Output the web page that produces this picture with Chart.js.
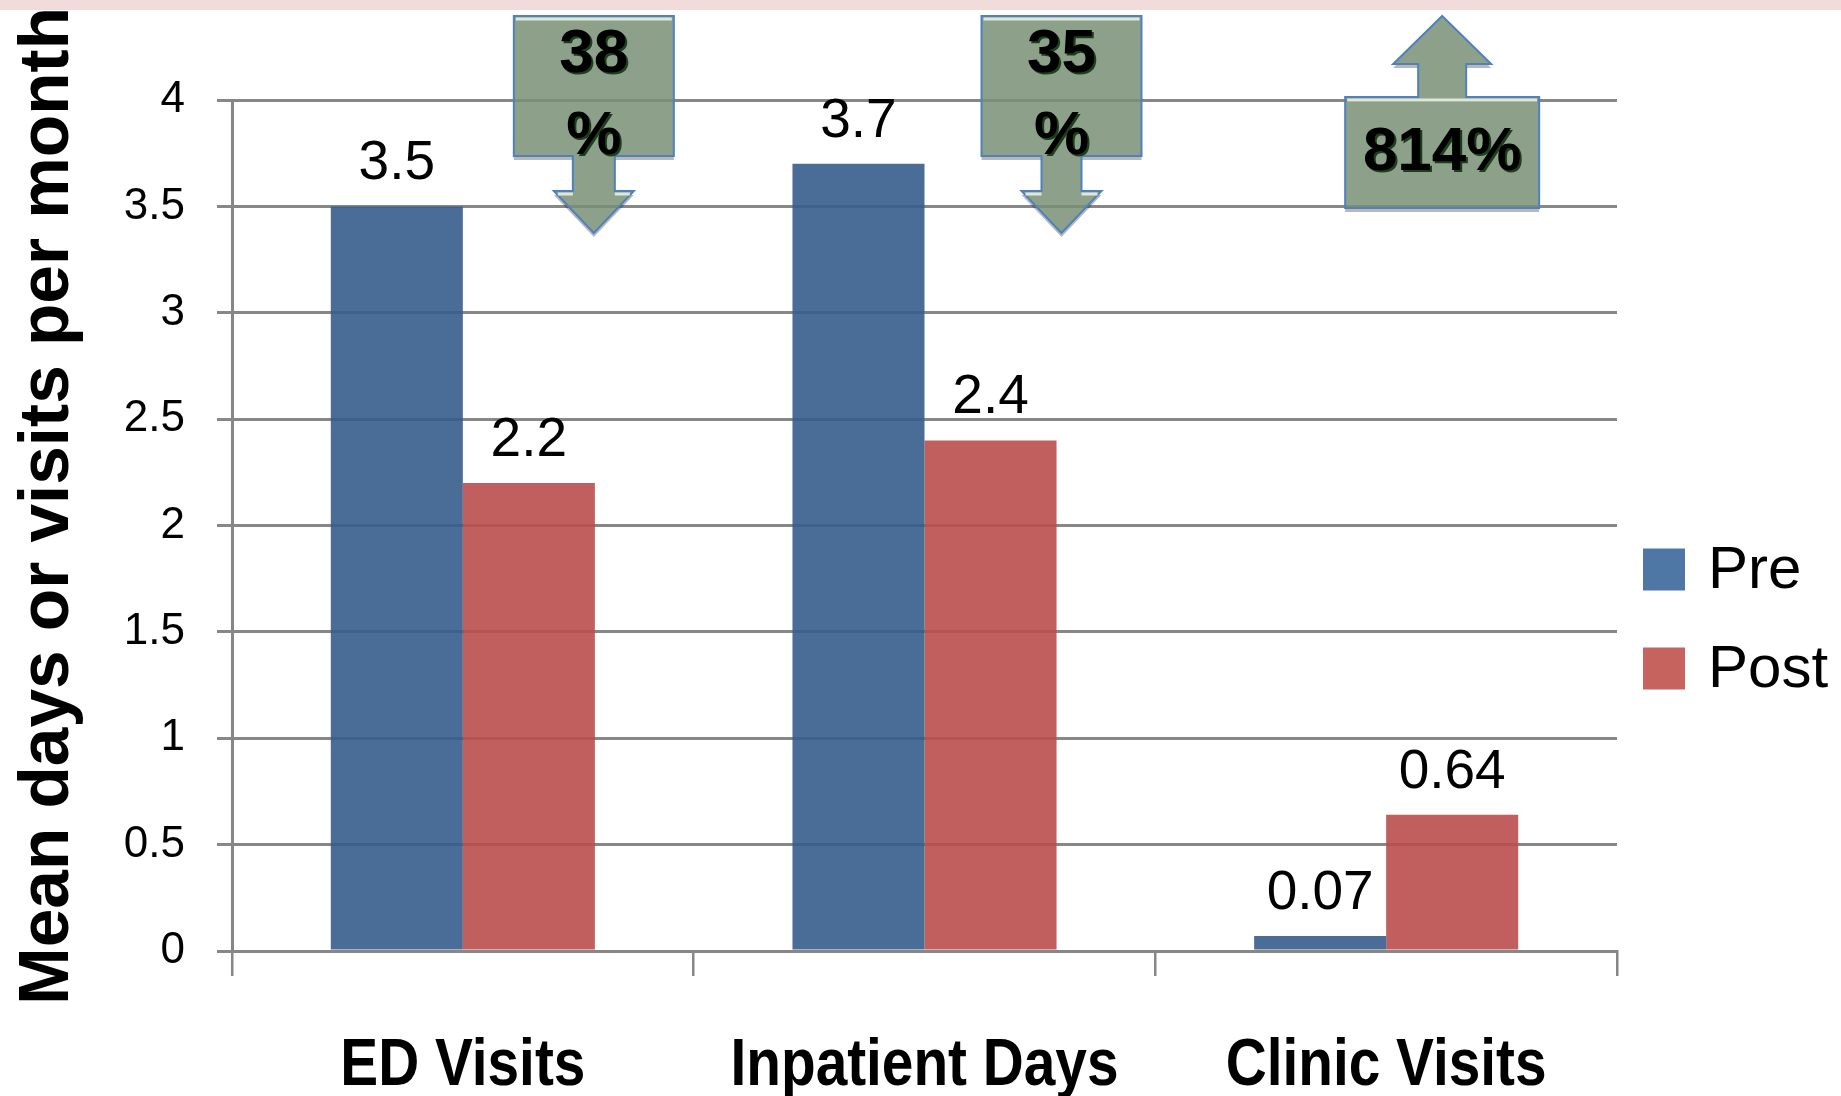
<!DOCTYPE html>
<html>
<head>
<meta charset="utf-8">
<script src="https://cdn.jsdelivr.net/npm/chart.js@4.4.1/dist/chart.umd.min.js"></script>
<style>
  html, body { margin: 0; padding: 0; background: #fff; }
  canvas { display: block; }
</style>
</head>
<body>
<canvas id="myChart" width="1841" height="1096"></canvas>
<script>
// data
const categories = ['ED Visits', 'Inpatient Days', 'Clinic Visits'];
const seriesNames = ['Pre', 'Post'];
const preValues = [3.5, 3.7, 0.07];
const postValues = [2.2, 2.4, 0.64];
const yMin = 0;
const yMax = 4;
const yStep = 0.5;
const changeTexts = [['38', '%'], ['35', '%'], ['814%']];
const changeDirections = ['down', 'down', 'up'];
const yTitle = 'Mean days or visits per month';

const gridGray = '#878787';
const barColors = ['rgba(54, 93, 141, 0.9)', 'rgba(185, 78, 76, 0.9)'];
const legendColors = ['#4f77a5', '#c6635f'];

// callout shapes, offsets in px from the category centre and chart top
const calloutShapes = [
  { dx: 131, half: 80, shaft: 21, wing: 40, boxTop: -84, boxBottom: 56, wingY: 91, tipY: 133, textY: [-45, 37] },
  { dx: 137, half: 80, shaft: 20, wing: 40, boxTop: -84, boxBottom: 56, wingY: 91, tipY: 133, textY: [-45, 37] },
  { dx: 56, half: 97, shaft: 24, wing: 49, boxTop: -3, boxBottom: 108, wingY: -36, tipY: -84, textY: [53] }
];

function tracePath(ctx, s, cx, top, dir, dy) {
  const l = cx - s.half, r = cx + s.half;
  const t = top + s.boxTop + dy, b = top + s.boxBottom + dy;
  const wy = top + s.wingY + dy, ty = top + s.tipY + dy;
  if (dir === 'down') {
    ctx.moveTo(l, t); ctx.lineTo(r, t); ctx.lineTo(r, b);
    ctx.lineTo(cx + s.shaft, b); ctx.lineTo(cx + s.shaft, wy);
    ctx.lineTo(cx + s.wing, wy); ctx.lineTo(cx, ty);
    ctx.lineTo(cx - s.wing, wy); ctx.lineTo(cx - s.shaft, wy);
    ctx.lineTo(cx - s.shaft, b); ctx.lineTo(l, b);
  } else {
    ctx.moveTo(cx, ty); ctx.lineTo(cx + s.wing, wy);
    ctx.lineTo(cx + s.shaft, wy); ctx.lineTo(cx + s.shaft, t);
    ctx.lineTo(r, t); ctx.lineTo(r, b); ctx.lineTo(l, b); ctx.lineTo(l, t);
    ctx.lineTo(cx - s.shaft, t); ctx.lineTo(cx - s.shaft, wy);
    ctx.lineTo(cx - s.wing, wy);
  }
  ctx.closePath();
}

const overlays = {
  id: 'overlays',
  afterDatasetsDraw(chart) {
    const ctx = chart.ctx;
    const area = chart.chartArea;
    const x = chart.scales.x;

    // percentage callouts
    calloutShapes.forEach((s, i) => {
      const cx = x.getPixelForValue(i) + s.dx;
      const dir = changeDirections[i];
      ctx.save();
      ctx.beginPath();
      ctx.rect(0, 0, chart.width, chart.height);
      tracePath(ctx, s, cx, area.top, dir, 0);
      ctx.clip('evenodd');
      ctx.beginPath();
      tracePath(ctx, s, cx, area.top, dir, 4);
      ctx.fillStyle = 'rgba(0, 0, 0, 0.28)';
      ctx.fill();
      ctx.restore();

      ctx.save();
      ctx.beginPath();
      tracePath(ctx, s, cx, area.top, dir, 0);
      ctx.fillStyle = 'rgba(121, 143, 118, 0.85)';
      ctx.fill();
      ctx.lineWidth = 2;
      ctx.strokeStyle = '#4f81bd';
      ctx.stroke();
      // pale top edge
      ctx.strokeStyle = '#dfe8d8';
      ctx.lineWidth = 3;
      ctx.beginPath();
      const tt = area.top + s.boxTop + 3;
      ctx.moveTo(cx - s.half + 2, tt); ctx.lineTo(cx + s.half - 2, tt);
      if (dir === 'down') {
        const wy = area.top + s.wingY + 3;
        ctx.moveTo(cx - s.wing + 4, wy); ctx.lineTo(cx - s.shaft, wy);
        ctx.moveTo(cx + s.shaft, wy); ctx.lineTo(cx + s.wing - 4, wy);
      }
      ctx.stroke();

      ctx.font = 'bold 62px "Liberation Sans", Arial, sans-serif';
      ctx.textAlign = 'center';
      ctx.textBaseline = 'middle';
      ctx.fillStyle = '#000';
      ctx.shadowColor = 'rgba(15, 55, 15, 0.9)';
      ctx.shadowOffsetX = 2;
      ctx.shadowOffsetY = 2;
      changeTexts[i].forEach((txt, k) => {
        ctx.fillText(txt, cx, area.top + s.textY[k]);
      });
      ctx.restore();
    });

    // value labels above bars
    ctx.save();
    ctx.font = '55px "Liberation Sans", Arial, sans-serif';
    ctx.textAlign = 'center';
    ctx.textBaseline = 'alphabetic';
    ctx.fillStyle = '#000';
    chart.data.datasets.forEach((ds, di) => {
      chart.getDatasetMeta(di).data.forEach((bar, i) => {
        ctx.fillText(String(ds.data[i]), bar.x, bar.y - 27);
      });
    });
    ctx.restore();
  },
  afterDraw(chart) {
    const ctx = chart.ctx;
    const area = chart.chartArea;
    const x = chart.scales.x;

    // category names, bold and a little condensed
    ctx.save();
    ctx.font = 'bold 66px "Liberation Sans", Arial, sans-serif';
    ctx.textAlign = 'center';
    ctx.textBaseline = 'middle';
    ctx.fillStyle = '#000';
    chart.data.labels.forEach((lab, i) => {
      ctx.save();
      ctx.translate(x.getPixelForValue(i), area.bottom + 116);
      ctx.scale(0.86, 1);
      ctx.fillText(lab, 0, 0);
      ctx.restore();
    });
    ctx.restore();

    // legend
    ctx.save();
    ctx.font = '60px "Liberation Sans", Arial, sans-serif';
    ctx.textBaseline = 'middle';
    ctx.textAlign = 'left';
    const mid = (area.top + area.bottom) / 2;
    chart.data.datasets.forEach((ds, i) => {
      const cy = mid + 44 + 99 * i;
      ctx.fillStyle = legendColors[i];
      ctx.fillRect(area.right + 26, cy - 21, 42, 42);
      ctx.fillStyle = '#000';
      ctx.fillText(ds.label, area.right + 91, cy + 2);
    });
    ctx.restore();

    // rotated y title, squeezed to the reference length
    ctx.save();
    ctx.font = 'bold 71px "Liberation Sans", Arial, sans-serif';
    const w = ctx.measureText(yTitle).width;
    ctx.translate(68, area.bottom + 54);
    ctx.rotate(-Math.PI / 2);
    ctx.scale(998 / w, 1);
    ctx.fillStyle = '#000';
    ctx.textAlign = 'left';
    ctx.textBaseline = 'alphabetic';
    ctx.fillText(yTitle, 0, 0);
    ctx.restore();

    // pink strip at the top
    ctx.save();
    ctx.fillStyle = '#f2dcdb';
    ctx.fillRect(0, 0, chart.width, 10);
    ctx.restore();
  }
};

const ctx = document.getElementById('myChart').getContext('2d');
const myChart = new Chart(ctx, {
  type: 'bar',
  data: {
    labels: categories,
    datasets: [
      { label: seriesNames[0], data: preValues, backgroundColor: barColors[0] },
      { label: seriesNames[1], data: postValues, backgroundColor: barColors[1] }
    ]
  },
  options: {
    responsive: false,
    animation: false,
    devicePixelRatio: 1,
    layout: { padding: { top: 100, right: 224, bottom: 0, left: 10 } },
    datasets: { bar: { categoryPercentage: 0.572, barPercentage: 1 } },
    plugins: {
      legend: { display: false },
      tooltip: { enabled: false }
    },
    scales: {
      x: {
        grid: { drawOnChartArea: false, drawTicks: true, tickLength: 25, color: gridGray, lineWidth: 2.5 },
        border: { display: true, color: gridGray, width: 3 },
        ticks: { display: false },
        afterFit(s) { s.height = 145; }
      },
      y: {
        min: yMin,
        max: yMax,
        grid: { color: gridGray, lineWidth: 3, tickLength: 15 },
        border: { display: true, color: gridGray, width: 3 },
        ticks: {
          stepSize: yStep,
          color: '#000',
          padding: 32,
          font: { family: '"Liberation Sans", Arial, sans-serif', size: 44 },
          callback: (v) => String(v)
        },
        afterFit(s) { s.width = 222; }
      }
    }
  },
  plugins: [overlays]
});
</script>
</body>
</html>
